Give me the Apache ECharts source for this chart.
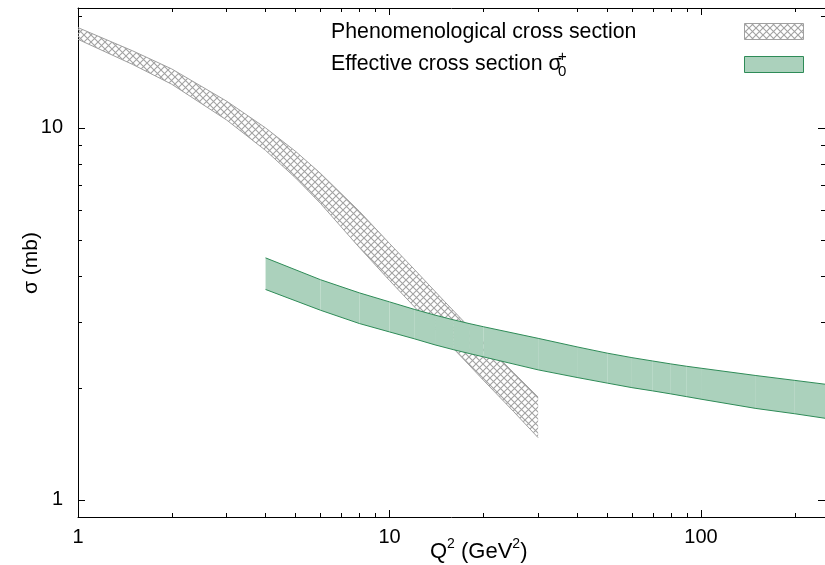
<!DOCTYPE html>
<html>
<head>
<meta charset="utf-8">
<script src="https://cdn.jsdelivr.net/npm/echarts@6/dist/echarts.min.js"></script>
<style>
html,body{margin:0;padding:0;background:#fff;}
#chart{width:825px;height:565px;}
</style>
</head>
<body>
<div id="chart"></div>
<script>
// ---- data ----
const phenoQ2    = [1, 1.5, 2, 3, 4, 5, 6, 8, 10, 12, 15, 20, 25, 30];
const phenoUpper = [18.6, 16.1, 14.4, 11.8, 10.0, 8.64, 7.55, 5.97, 4.89, 4.17, 3.42, 2.66, 2.20, 1.89];
const phenoLower = [17.3, 14.8, 13.1, 10.5, 8.70, 7.33, 6.27, 4.77, 3.89, 3.31, 2.71, 2.10, 1.73, 1.47];

const effQ2    = [4, 6, 8, 10, 12, 14, 16, 18, 20, 30, 40, 50, 60, 70, 80, 90, 100, 150, 200, 250];
const effUpper = [4.474, 3.909, 3.603, 3.407, 3.254, 3.139, 3.051, 2.980, 2.922, 2.719, 2.579, 2.481, 2.413, 2.363, 2.321, 2.287, 2.260, 2.160, 2.096, 2.047];
const effLower = [3.679, 3.236, 2.980, 2.829, 2.712, 2.611, 2.536, 2.476, 2.425, 2.237, 2.134, 2.061, 2.004, 1.964, 1.928, 1.895, 1.866, 1.762, 1.705, 1.658];

const xMajorTicks = [1, 10, 100];
const xMinorTicks = [2, 3, 4, 5, 6, 7, 8, 9, 20, 30, 40, 50, 60, 70, 80, 90, 200];
const yMajorTicks = [1, 10];
const yMinorTicks = [2, 3, 4, 5, 6, 7, 8, 9, 20];

const legendLabels = ['Phenomenological cross section', 'Effective cross section σ'];
const xTitle = '{a|Q}{s|2}{a| (GeV}{s|2}{a|)}';
const yTitle = 'σ (mb)';

const X_MIN = 1, X_MAX = 250, Y_MIN = 0.9, Y_MAX = 21;
const FONT = '"Liberation Sans", Arial, Helvetica, sans-serif';
const GREEN_FILL = '#abd1bc';
const GREEN_LINE = '#2e8b57';
const GRAY = '#a0a0a0';

// crosshatch pattern
function makeHatch() {
  const c = document.createElement('canvas');
  const s = 7;
  c.width = s; c.height = s;
  const ctx = c.getContext('2d');
  ctx.strokeStyle = '#a2a2a2';
  ctx.lineWidth = 1.1;
  ctx.beginPath();
  ctx.moveTo(-1, -1); ctx.lineTo(s + 1, s + 1);
  ctx.moveTo(s + 1, -1); ctx.lineTo(-1, s + 1);
  ctx.stroke();
  return c;
}
const hatch = { type: 'pattern', image: makeHatch(), repeat: 'repeat' };

const phenoRows = phenoQ2.map((q, i) => [q, phenoLower[i], phenoUpper[i]]);
const effRows = effQ2.map((q, i) => [q, effLower[i], effUpper[i]]);

function xAx(gridIndex, position, ticks, len, showLine, labels) {
  return {
    type: 'log', logBase: 10, min: X_MIN, max: X_MAX, gridIndex, position,
    axisLine: { show: showLine, onZero: false, lineStyle: { color: '#000', width: 1 } },
    axisTick: { show: true, inside: true, length: len, customValues: ticks, lineStyle: { color: '#000', width: 1 } },
    axisLabel: labels ? { show: true, customValues: xMajorTicks, margin: 10, fontSize: 20, fontFamily: FONT, color: '#000' } : { show: false },
    splitLine: { show: false }, minorTick: { show: false }
  };
}
function yAx(gridIndex, position, ticks, len, showLine, labels) {
  return {
    type: 'log', logBase: 10, min: Y_MIN, max: Y_MAX, gridIndex, position,
    axisLine: { show: showLine, onZero: false, lineStyle: { color: '#000', width: 1 } },
    axisTick: { show: true, inside: true, length: len, customValues: ticks, lineStyle: { color: '#000', width: 1 } },
    axisLabel: labels ? { show: true, customValues: yMajorTicks, margin: 15, fontSize: 20, fontFamily: FONT, color: '#000' } : { show: false },
    splitLine: { show: false }, minorTick: { show: false }
  };
}

const gridPos = { left: 78, right: -5, top: 8, bottom: 48, containLabel: false };

const chart = echarts.init(document.getElementById('chart'), null, { renderer: 'canvas' });
chart.setOption({
  animation: false,
  backgroundColor: '#fff',
  grid: [Object.assign({}, gridPos), Object.assign({}, gridPos)],
  xAxis: [
    xAx(0, 'bottom', xMajorTicks, 7, true, true),
    xAx(0, 'top', xMajorTicks, 7, true, false),
    xAx(1, 'bottom', xMinorTicks, 4, false, false),
    xAx(1, 'top', xMinorTicks, 4, false, false)
  ],
  yAxis: [
    yAx(0, 'left', yMajorTicks, 7, true, true),
    yAx(0, 'right', yMajorTicks, 7, true, false),
    yAx(1, 'left', yMinorTicks, 4, false, false),
    yAx(1, 'right', yMinorTicks, 4, false, false)
  ],
  series: [
    {
      type: 'custom', name: 'pheno-band', xAxisIndex: 0, yAxisIndex: 0, z: 2, clip: true,
      dimensions: ['q', 'lo', 'hi'], encode: { x: 0, y: [1, 2] },
      data: phenoRows,
      renderItem: function (params, api) {
        if (params.dataIndex !== 0) return null;
        const pts = [];
        for (let i = 0; i < phenoRows.length; i++) pts.push(api.coord([phenoRows[i][0], phenoRows[i][2]]));
        for (let i = phenoRows.length - 1; i >= 0; i--) pts.push(api.coord([phenoRows[i][0], phenoRows[i][1]]));
        return { type: 'polygon', shape: { points: pts }, style: { fill: hatch, stroke: null } };
      }
    },
    {
      type: 'line', name: 'pheno-upper', xAxisIndex: 0, yAxisIndex: 0, z: 3, showSymbol: false, smooth: false,
      data: phenoQ2.map((q, i) => [q, phenoUpper[i]]), lineStyle: { color: GRAY, width: 1 }, silent: true
    },
    {
      type: 'line', name: 'pheno-lower', xAxisIndex: 0, yAxisIndex: 0, z: 3, showSymbol: false,
      data: phenoQ2.map((q, i) => [q, phenoLower[i]]), lineStyle: { color: GRAY, width: 1 }, silent: true
    },
    {
      type: 'custom', name: 'eff-band', xAxisIndex: 0, yAxisIndex: 0, z: 4, clip: true,
      dimensions: ['q', 'lo', 'hi'], encode: { x: 0, y: [1, 2] },
      data: effRows,
      renderItem: function (params, api) {
        const i = params.dataIndex;
        if (i >= effRows.length - 1) return null;
        const a = effRows[i], b = effRows[i + 1];
        const pts = [api.coord([a[0], a[2]]), api.coord([b[0], b[2]]), api.coord([b[0], b[1]]), api.coord([a[0], a[1]])];
        return { type: 'polygon', shape: { points: pts }, style: { fill: GREEN_FILL, stroke: null } };
      }
    },
    {
      type: 'line', name: 'eff-upper', xAxisIndex: 0, yAxisIndex: 0, z: 5, showSymbol: false,
      data: effQ2.map((q, i) => [q, effUpper[i]]), lineStyle: { color: GREEN_LINE, width: 1 }, silent: true
    },
    {
      type: 'line', name: 'eff-lower', xAxisIndex: 0, yAxisIndex: 0, z: 5, showSymbol: false,
      data: effQ2.map((q, i) => [q, effLower[i]]), lineStyle: { color: GREEN_LINE, width: 1 }, silent: true
    }
  ],
  graphic: [
    { type: 'text', x: 331, y: 32, z: 10, style: { text: legendLabels[0], font: '21.3px ' + FONT, fill: '#000', align: 'left', verticalAlign: 'middle', textAlign: 'left', textVerticalAlign: 'middle' } },
    { type: 'text', x: 331, y: 64, z: 10, style: { text: legendLabels[1], font: '21.3px ' + FONT, fill: '#000', align: 'left', verticalAlign: 'middle', textAlign: 'left', textVerticalAlign: 'middle' } },
    { type: 'text', x: 558, y: 72, z: 10, style: { text: '0', font: '15px ' + FONT, fill: '#000', align: 'left', verticalAlign: 'middle', textAlign: 'left', textVerticalAlign: 'middle' } },
    { type: 'text', x: 558, y: 57, z: 10, style: { text: '+', font: '15px ' + FONT, fill: '#000', align: 'left', verticalAlign: 'middle', textAlign: 'left', textVerticalAlign: 'middle' } },
    { type: 'rect', z: 10, shape: { x: 744.5, y: 23.5, width: 59, height: 16 }, style: { fill: hatch, stroke: GRAY, lineWidth: 1 } },
    { type: 'rect', z: 10, shape: { x: 744.5, y: 56.5, width: 59, height: 16 }, style: { fill: GREEN_FILL, stroke: GREEN_LINE, lineWidth: 1 } },
    { type: 'text', x: 430, y: 550, z: 10, style: {
        text: xTitle, align: 'left', verticalAlign: 'middle', textAlign: 'left', textVerticalAlign: 'middle',
        rich: {
          a: { fontSize: 22, fontFamily: FONT, color: '#000', lineHeight: 26, verticalAlign: 'bottom' },
          s: { fontSize: 14, fontFamily: FONT, color: '#000', lineHeight: 14, verticalAlign: 'top' }
        }
      } },
    { type: 'text', x: 31, y: 263, rotation: Math.PI / 2, z: 10, style: { text: yTitle, font: '21px ' + FONT, fill: '#000', align: 'center', verticalAlign: 'middle', textAlign: 'center', textVerticalAlign: 'middle' } }
  ]
});
</script>
</body>
</html>
